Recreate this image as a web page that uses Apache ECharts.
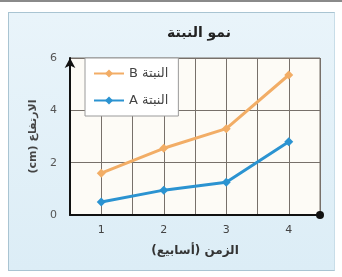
<!DOCTYPE html>
<html>
<head>
<meta charset="utf-8">
<script src="https://cdn.jsdelivr.net/npm/echarts@6/dist/echarts.min.js"></script>
<style>
  html, body { margin: 0; padding: 0; background: #ffffff; }
  #topline { position: absolute; left: 0; top: 0; width: 342px; height: 2px; background: #8a8a8a; }
  #panel {
    position: absolute; left: 8px; top: 12px; width: 325px; height: 257px;
    background: linear-gradient(#e9f4fa, #dcedf6);
    border: 1px solid #a9c4d2; border-right-color: #c8dde8;
  }
  #chart { position: absolute; left: 0; top: 0; width: 342px; height: 277px; }
</style>
</head>
<body>
<div id="topline"></div>
<div id="panel"></div>
<div id="chart" dir="rtl"></div>
<script>
const weeks = [1, 2, 3, 4];
const plantB = [1.6, 2.55, 3.3, 5.35];
const plantA = [0.5, 0.95, 1.25, 2.8];
const legendNames = ["النبتة B", "النبتة A"];
const titleText = "نمو النبتة";
const xName = "الزمن (أسابيع)";
const yName = "الارتفاع (cm)";

const font = "DejaVu Sans, sans-serif";
const chart = echarts.init(document.getElementById("chart"));

const toPairs = (vals) => weeks.map((w, i) => [w, vals[i]]);

const options = {
  animation: false,
  title: {
    text: titleText,
    left: 194,
    textAlign: "center",
    top: 21,
    textStyle: { fontSize: 14, fontWeight: "bold", color: "#222", fontFamily: font },
  },
  legend: {
    data: legendNames,
    orient: "vertical",
    left: 85,
    top: 58,
    backgroundColor: "#ffffff",
    borderColor: "#9a9a9a",
    borderWidth: 1,
    padding: [9, 10, 9, 8],
    itemGap: 14,
    itemWidth: 30,
    itemHeight: 10,
    textStyle: { fontSize: 13, color: "#444", fontFamily: font },
  },
  grid: {
    left: 70,
    right: 22,
    top: 58,
    bottom: 62,
    show: true,
    backgroundColor: "#fdfbf6",
    borderColor: "#77706a",
    borderWidth: 1,
  },
  xAxis: {
    type: "value",
    min: 0.5,
    max: 4.5,
    interval: 0.5,
    name: xName,
    nameLocation: "middle",
    nameGap: 30,
    nameTextStyle: { fontSize: 12, fontWeight: "bold", color: "#333", fontFamily: font },
    axisLine: { lineStyle: { color: "#111", width: 2 }, symbol: ["none", "circle"], symbolSize: [8, 8] },
    axisTick: { show: false },
    axisLabel: {
      formatter: (v) => (Number.isInteger(v) ? String(v) : ""),
      fontSize: 11,
      color: "#444",
      margin: 10,
      fontFamily: font,
    },
    splitLine: { show: true, lineStyle: { color: "#77706a", width: 1 } },
  },
  yAxis: {
    type: "value",
    min: 0,
    max: 6,
    interval: 2,
    name: yName,
    nameLocation: "middle",
    nameRotate: 90,
    nameGap: 31,
    nameTextStyle: { fontSize: 11, fontWeight: "bold", color: "#444", fontFamily: font },
    axisLine: { lineStyle: { color: "#111", width: 2 }, symbol: ["none", "arrow"], symbolSize: [8, 10] },
    axisTick: { show: false },
    axisLabel: { fontSize: 11, color: "#555", margin: 13, fontFamily: font },
    splitLine: { show: true, lineStyle: { color: "#77706a", width: 1 } },
  },
  series: [
    {
      name: legendNames[0],
      type: "line",
      data: toPairs(plantB),
      symbol: "diamond",
      symbolSize: 9,
      lineStyle: { width: 3, color: "#f2ad66" },
      itemStyle: { color: "#f2ad66" },
    },
    {
      name: legendNames[1],
      type: "line",
      data: toPairs(plantA),
      symbol: "diamond",
      symbolSize: 9,
      lineStyle: { width: 3, color: "#2b93d1" },
      itemStyle: { color: "#2b93d1" },
    },
  ],
};

chart.setOption(options);
</script>
</body>
</html>
